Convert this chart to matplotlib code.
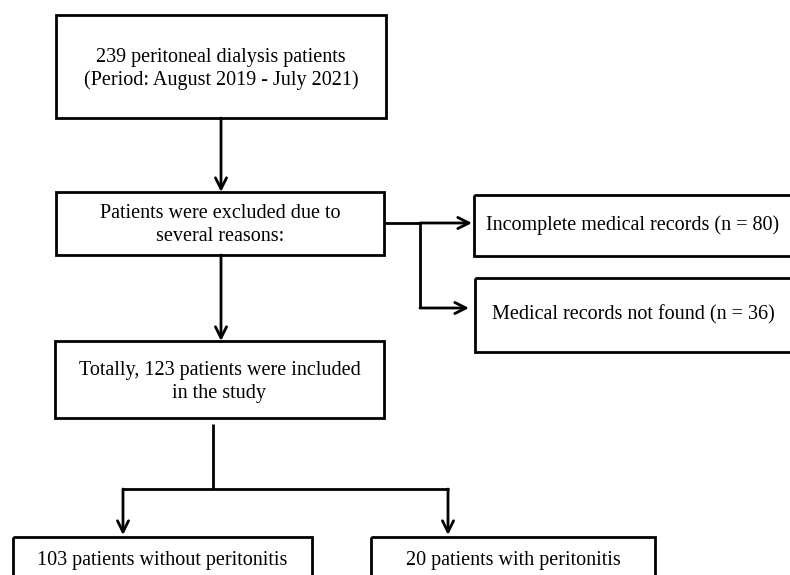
import matplotlib.pyplot as plt
from matplotlib.patches import Rectangle

# texts of the flowchart
box_texts = [
    "239 peritoneal dialysis patients\n(Period: August 2019 - July 2021)",
    "Patients were excluded due to\nseveral reasons:",
    "Incomplete medical records (n = 80)",
    "Medical records not found (n = 36)",
    "Totally, 123 patients were included\nin the study",
    "103 patients without peritonitis",
    "20 patients with peritonitis",
]

# layout in pixels: x0, y0, x1, y1, text y
boxes = [
    (56, 15, 386, 118, 69),
    (56, 192, 384, 255, 225),
    (474, 195, 792, 256, 225),
    (475, 278, 792, 352, 315),
    (55, 341, 384, 418, 382),
    (13, 537, 312, 600, 560),
    (371, 537, 655, 600, 560),
]

plt.rcParams['font.family'] = 'Liberation Serif'
fig = plt.figure(figsize=(7.9, 5.75), dpi=100)
ax = fig.add_axes([0, 0, 1, 1])
ax.set_xlim(0, 790)
ax.set_ylim(575, 0)
ax.axis('off')

lw = 2
for (x0, y0, x1, y1, ty), txt in zip(boxes, box_texts):
    ax.add_patch(Rectangle((x0, y0), x1 - x0, y1 - y0, fill=False,
                           edgecolor='black', linewidth=lw))
    ax.text((x0 + x1) / 2, ty, txt, ha='center', va='center',
            fontsize=14.5, linespacing=1.25)

def arrow(x0, y0, x1, y1):
    ax.annotate('', xy=(x1, y1), xytext=(x0, y0),
                arrowprops=dict(arrowstyle='->,head_length=0.8,head_width=0.4',
                                color='black', lw=lw, shrinkA=0, shrinkB=0))

def line(xs, ys):
    ax.plot(xs, ys, color='black', lw=lw, solid_capstyle='butt')

arrow(221, 118, 221, 192)
line([384, 420], [223, 223])
arrow(420, 223, 472, 223)
line([420, 420], [223, 308])
arrow(420, 308, 469, 308)
arrow(221, 255, 221, 341)
line([213, 213], [424, 489])
line([122, 449], [489, 489])
arrow(123, 489, 123, 535)
arrow(448, 489, 448, 535)

fig.savefig('out.png', dpi=100)
